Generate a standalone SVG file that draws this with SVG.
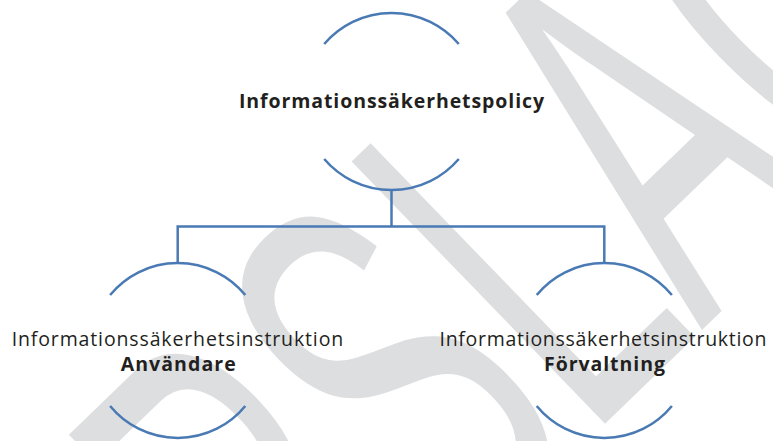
<svg xmlns="http://www.w3.org/2000/svg" width="773" height="441" viewBox="0 0 773 441">
  <style>
    .arc { fill: none; stroke: #4a7ab4; stroke-width: 2.5; }
    .conn { fill: none; stroke: #4a7ab4; stroke-width: 2.5; }
    .t { font-family: "Open Sans", "Liberation Sans", sans-serif; font-size: 19.5px; fill: #231f20; }
    .b { font-weight: bold; }
    .wm { font-family: "Liberation Sans", Arial, sans-serif; font-size: 530px; fill: #dddee0; }
  </style>
  <rect width="773" height="441" fill="#ffffff"/>
  <g id="watermark">
    <text class="wm" x="0" y="0" transform="matrix(0.384 -0.371 0.695 0.719 23 986)">FÖRSLAG</text>
  </g>
  <g id="connectors">
    <path class="conn" d="M391.5,190 V226.5"/>
    <path class="conn" d="M177.7,263 V226.5 H604.3 V263"/>
  </g>
  <g id="node-policy">
    <path class="arc" d="M324.2,44 A88.5,88.5 0 0 1 458.8,44"/>
    <path class="arc" d="M324.2,159 A88.5,88.5 0 0 0 458.8,159"/>
    <text class="t b" x="239" y="108" textLength="305" lengthAdjust="spacing">Informationssäkerhetspolicy</text>
  </g>
  <g id="node-anvandare">
    <path class="arc" d="M110.1,295 A87.5,87.5 0 0 1 245.3,295"/>
    <path class="arc" d="M110.1,406 A87.5,87.5 0 0 0 245.3,406"/>
    <text class="t" x="11.7" y="345.5" textLength="331.5" lengthAdjust="spacing">Informationssäkerhetsinstruktion</text>
    <text class="t b" x="120.7" y="371" textLength="115" lengthAdjust="spacing">Användare</text>
  </g>
  <g id="node-forvaltning">
    <path class="arc" d="M536.7,295 A87.5,87.5 0 0 1 671.9,295"/>
    <path class="arc" d="M536.7,406 A87.5,87.5 0 0 0 671.9,406"/>
    <text class="t" x="439.5" y="345.5" textLength="327" lengthAdjust="spacing">Informationssäkerhetsinstruktion</text>
    <text class="t b" x="544" y="371" textLength="121" lengthAdjust="spacing">Förvaltning</text>
  </g>
</svg>
